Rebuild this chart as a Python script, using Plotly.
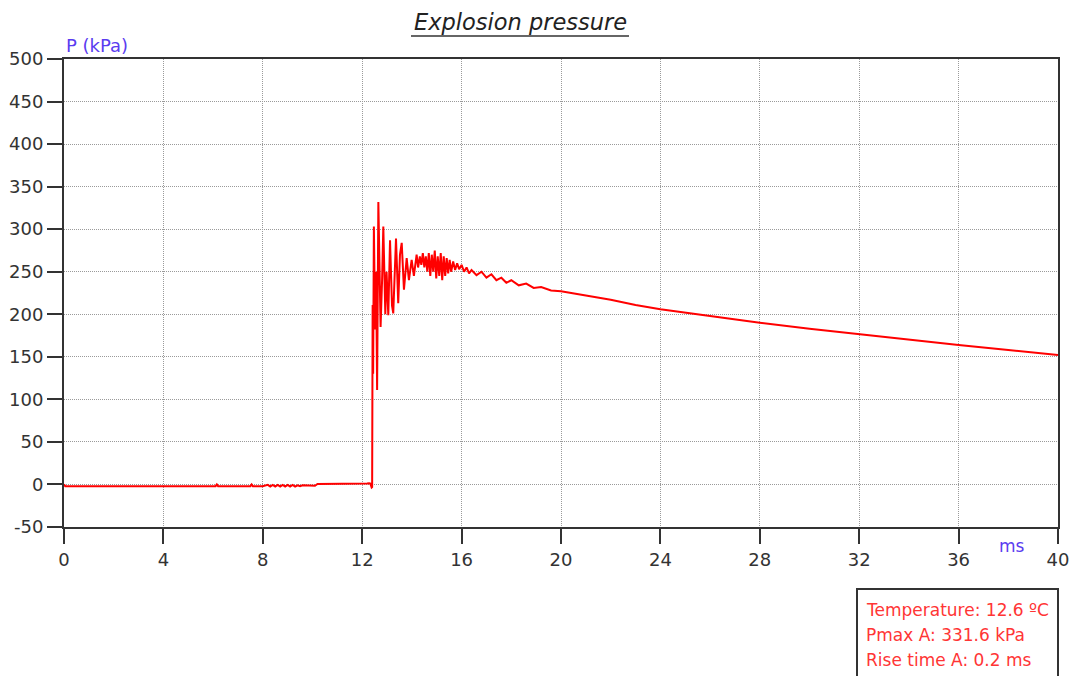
import plotly.graph_objects as go

# ---- data ----
time_ms = [
    0.0, 0.05, 1.0, 3.0, 5.0, 6.1, 6.15, 6.2, 7.5, 7.55, 7.6, 8.0, 8.2, 8.3, 8.4, 8.5, 8.6, 8.7, 8.8,
    8.9, 9.0, 9.1, 9.2, 9.3, 9.4, 9.5, 9.6, 9.8, 10.1, 10.2, 11.0, 12.0, 12.2, 12.28, 12.33, 12.38,
    12.40, 12.42, 12.44, 12.47, 12.52, 12.56, 12.60, 12.65, 12.70, 12.74, 12.80, 12.85, 12.93, 12.98,
    13.05, 13.12, 13.20, 13.25, 13.36, 13.45, 13.52, 13.59, 13.68, 13.79, 13.88, 13.99, 14.08, 14.19,
    14.25, 14.32, 14.38, 14.44, 14.50, 14.56, 14.62, 14.68, 14.74, 14.80, 14.86, 14.92, 14.98, 15.04,
    15.10, 15.16, 15.22, 15.28, 15.34, 15.40, 15.46, 15.52, 15.58, 15.66, 15.74, 15.82, 15.90, 16.00,
    16.10, 16.20, 16.30, 16.40, 16.60, 16.80, 17.00, 17.20, 17.40, 17.60, 17.80, 18.00, 18.30, 18.60,
    18.90, 19.20, 19.60, 20.0, 21.0, 22.0, 23.0, 24.0, 26.0, 28.0, 30.0, 32.0, 34.0, 36.0, 38.0, 40.0,
]
pressure_kpa = [
    0.0, -2.0, -2.0, -2.0, -2.0, -2.0, 0.0, -2.0, -2.0, 0.0, -2.0, -2.0, -0.5, -2.5, -0.5, -2.5, -0.5, -2.5, -0.5,
    -2.5, -0.5, -2.5, -0.5, -2.5, -1.0, -2.0, -1.0, -1.5, -1.5, 0.5, 0.5, 0.5, 1.0, 1.5, 1.0, -3.5,
    -3.0, 211, 130, 303, 182, 250, 111, 332, 230, 185, 240, 303, 200, 250,
    199, 287, 210, 201, 289, 213, 270, 284, 229, 266, 240, 264, 245, 270,
    255, 268, 258, 272, 255, 268, 250, 272, 245, 270, 250, 275, 242, 268,
    245, 272, 240, 268, 245, 266, 248, 264, 250, 262, 252, 260, 253, 258,
    250, 255, 248, 252, 246, 250, 243, 247, 240, 243, 237, 240, 234, 236,
    231, 232, 228, 227, 222, 217, 211, 206, 198, 190, 183, 176.5, 170, 164, 158, 152,
]

x_ticks = [0, 4, 8, 12, 16, 20, 24, 28, 32, 36, 40]
y_ticks = [-50, 0, 50, 100, 150, 200, 250, 300, 350, 400, 450, 500]

title_text = "Explosion pressure"
y_label = "P (kPa)"
x_label = "ms"
info_lines = ["Temperature: 12.6 ºC", "Pmax A: 331.6 kPa", "Rise time A: 0.2 ms"]

FONT = "DejaVu Sans"
W, H = 1069, 676
L, R, T, B = 64, 1058, 59, 527

def px_x(px):
    return (px - L) / (R - L)

def px_y(py):
    return (B - py) / (B - T)

fig = go.Figure()
fig.add_trace(go.Scatter(
    x=time_ms, y=pressure_kpa, mode="lines",
    line=dict(color="#ff0000", width=2),
    hoverinfo="x+y", showlegend=False,
))

axis_common = dict(
    showgrid=True, gridcolor="#9a9a9a", griddash="1px,1px", gridwidth=1,
    showline=True, linecolor="#333333", linewidth=2, mirror=True,
    ticks="outside", ticklen=15, tickwidth=2, tickcolor="#333333",
    tickfont=dict(family=FONT, size=18, color="#333333"),
    zeroline=False, automargin=False, ticklabeloverflow="allow",
)

fig.update_xaxes(range=[0, 40], tickvals=x_ticks, ticktext=[str(v) for v in x_ticks], **axis_common)
fig.update_yaxes(range=[-50, 500], tickvals=y_ticks, ticktext=[str(v) for v in y_ticks], **axis_common)

annotations = [
    dict(text="<i>" + title_text + "</i>", x=px_x(520), y=px_y(22), xref="paper", yref="paper",
         xanchor="center", yanchor="middle", showarrow=False,
         font=dict(family=FONT, size=22.5, color="#222222")),
    dict(text=y_label, x=px_x(64), y=px_y(45), xref="paper", yref="paper",
         xanchor="left", yanchor="middle", showarrow=False,
         font=dict(family=FONT, size=18, color="#5a3cf0")),
    dict(text=x_label, x=px_x(1012), y=px_y(546), xref="paper", yref="paper",
         xanchor="center", yanchor="middle", showarrow=False,
         font=dict(family=FONT, size=17, color="#5a3cf0")),
]
for i, line in enumerate(info_lines):
    annotations.append(dict(
        text=line, x=px_x(864), y=px_y(610 + 25 * i), xref="paper", yref="paper",
        xanchor="left", yanchor="middle", showarrow=False,
        font=dict(family=FONT, size=17, color="#ff3535"),
    ))

shapes = [
    dict(type="line", xref="paper", yref="paper", x0=px_x(411), x1=px_x(629),
         y0=px_y(36), y1=px_y(36), line=dict(color="#333333", width=1.5)),
    dict(type="rect", xref="paper", yref="paper", x0=px_x(857), x1=px_x(1058),
         y0=px_y(589), y1=px_y(690), line=dict(color="#333333", width=2), fillcolor="rgba(0,0,0,0)"),
]

fig.update_layout(
    width=W, height=H,
    margin=dict(l=L, r=W - R, t=T, b=H - B, pad=0),
    paper_bgcolor="white", plot_bgcolor="white",
    annotations=annotations, shapes=shapes,
    font=dict(family=FONT),
)

fig.write_html(
    "out.html",
    config={"displayModeBar": False},
    post_script="document.body.style.margin='0';document.body.style.overflow='hidden';",
)
